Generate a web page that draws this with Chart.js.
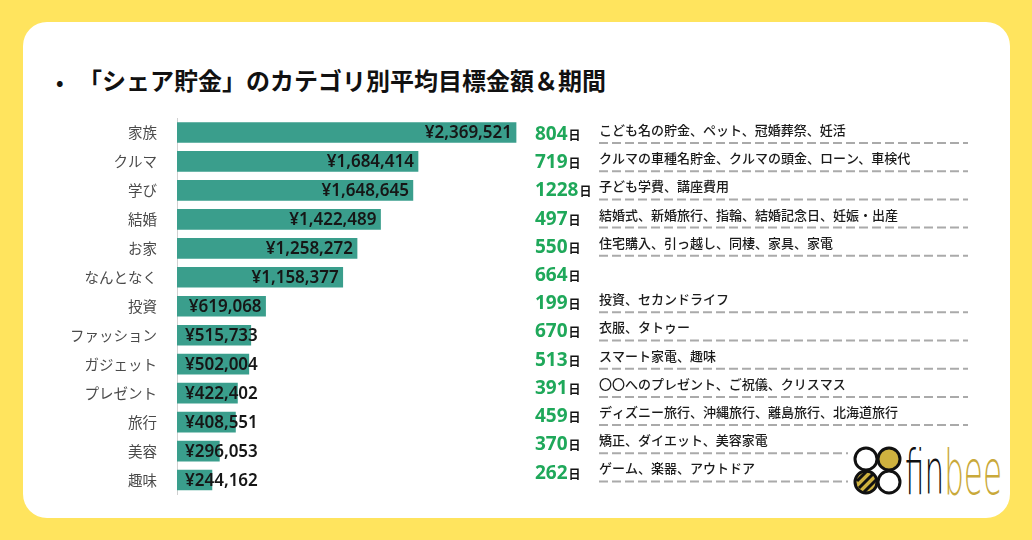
<!DOCTYPE html>
<html lang="ja">
<head>
<meta charset="utf-8">
<script src="https://cdn.jsdelivr.net/npm/chart.js@4.4.1/dist/chart.umd.min.js"></script>
<style>
  html, body { margin: 0; padding: 0; background: #ffe45e; }
  #wrap { position: relative; width: 1032px; height: 540px; overflow: hidden; background: #ffe45e; }
  #card { position: absolute; left: 23px; top: 22px; width: 987px; height: 496px; background: #fff; border-radius: 24px; }
  #title { position: absolute; left: 56px; top: 62px; line-height: 26px; font: bold 24px "Noto Sans CJK JP"; color: #111; white-space: nowrap; }
  #title .dot { display: inline-block; width: 22px; font-size: 20px; }
  canvas { position: absolute; left: 0; top: 0; }
  #logo { position: absolute; left: 848px; top: 438px; }
</style>
</head>
<body>
<div id="wrap">
  <div id="card"></div>
  <div id="title"><span class="dot">•</span>「シェア貯金」のカテゴリ別平均目標金額＆期間</div>
  <canvas id="shareChart" width="1032" height="540"></canvas>
  <svg id="logo" width="160" height="64" viewBox="0 0 160 64">
    <rect x="0" y="0" width="160" height="64" fill="#fff"/>
    <g stroke="#111" stroke-width="3">
      <circle cx="18" cy="21" r="11" fill="#fff"/>
      <circle cx="41" cy="21" r="11" fill="#cfb23f"/>
      <circle cx="41" cy="44" r="11" fill="#fff"/>
      <circle cx="18" cy="44" r="11" fill="#cfb23f"/>
    </g>
    <g stroke="#111" stroke-width="3">
      <line x1="9" y1="43" x2="19" y2="33"/>
      <line x1="11" y1="50" x2="25" y2="36"/>
      <line x1="16" y1="54" x2="28" y2="42"/>
    </g>
    <text transform="translate(57,56) scale(0.5,1)" font-family="DejaVu Sans" font-weight="200" font-size="62"><tspan fill="#111">fin</tspan><tspan fill="#c9a93a">bee</tspan></text>
  </svg>
</div>
<script>
const categories = ['家族', 'クルマ', '学び', '結婚', 'お家', 'なんとなく', '投資', 'ファッション', 'ガジェット', 'プレゼント', '旅行', '美容', '趣味'];
const amounts = [2369521, 1684414, 1648645, 1422489, 1258272, 1158377, 619068, 515733, 502004, 422402, 408551, 296053, 244162];
const days = [804, 719, 1228, 497, 550, 664, 199, 670, 513, 391, 459, 370, 262];
const examples = [
    'こども名の貯金、ペット、冠婚葬祭、妊活',
    'クルマの車種名貯金、クルマの頭金、ローン、車検代',
    '子ども学費、講座費用',
    '結婚式、新婚旅行、指輪、結婚記念日、妊娠・出産',
    '住宅購入、引っ越し、同棲、家具、家電',
    '',
    '投資、セカンドライフ',
    '衣服、タトゥー',
    'スマート家電、趣味',
    '〇〇へのプレゼント、ご祝儀、クリスマス',
    'ディズニー旅行、沖縄旅行、離島旅行、北海道旅行',
    '矯正、ダイエット、美容家電',
    'ゲーム、楽器、アウトドア'
];

const sideText = {
    id: 'sideText',
    afterDatasetsDraw(chart) {
        const ctx = chart.ctx;
        const xs = chart.scales.x;
        const ys = chart.scales.y;
        const base = xs.getPixelForValue(0);
        ctx.save();
        categories.forEach(function (c, i) {
            const yc = ys.getPixelForValue(i);
            const end = xs.getPixelForValue(amounts[i]);

            // amount label on the bar
            ctx.font = '600 17px "Noto Sans"';
            ctx.fillStyle = '#161616';
            ctx.textAlign = 'right';
            ctx.textBaseline = 'middle';
            const label = '¥' + amounts[i].toLocaleString('en-US');
            const w = ctx.measureText(label).width;
            ctx.fillText(label, Math.max(base + 8 + w, end - 4), yc + 1);

            // days column
            const dy = yc + 0.5 - 0.75 * i;
            ctx.textAlign = 'left';
            ctx.textBaseline = 'alphabetic';
            ctx.font = 'bold 19px "Noto Sans"';
            ctx.fillStyle = '#1fa85a';
            const d = String(days[i]);
            ctx.fillText(d, 535, dy + 7);
            const dw = ctx.measureText(d).width;
            ctx.font = 'bold 12px "Noto Sans CJK JP"';
            ctx.fillStyle = '#111';
            ctx.fillText('日', 535 + dw + 1, dy + 7);

            // examples + dashed rule
            if (examples[i]) {
                ctx.font = '500 13px "Noto Sans CJK JP"';
                ctx.fillStyle = '#1a1a1a';
                ctx.textBaseline = 'middle';
                ctx.fillText(examples[i], 599, dy - 3);
                ctx.beginPath();
                ctx.setLineDash([9, 4]);
                ctx.strokeStyle = '#aaaaaa';
                ctx.lineWidth = 2;
                ctx.moveTo(599, dy + 10);
                ctx.lineTo(968, dy + 10);
                ctx.stroke();
                ctx.setLineDash([]);
            }
        });
        ctx.restore();
    }
};

document.addEventListener('DOMContentLoaded', function () {
    const ctx = document.getElementById('shareChart');
    new Chart(ctx, {
        type: 'bar',
        data: {
            labels: categories,
            datasets: [{
                data: amounts,
                backgroundColor: '#3a9e8c',
                barThickness: 20
            }]
        },
        options: {
            indexAxis: 'y',
            responsive: false,
            animation: false,
            layout: {
                padding: { left: 0, right: 511.6, top: 118, bottom: 45.5 }
            },
            scales: {
                x: {
                    display: false,
                    min: 0,
                    max: 2400000
                },
                y: {
                    grid: { display: false, drawTicks: false },
                    border: { display: true, color: '#d0d0d0', width: 1 },
                    ticks: {
                        color: '#4a4a4a',
                        padding: 20,
                        font: { family: '"Noto Sans CJK JP"', size: 14.5 }
                    },
                    afterFit: function (scale) { scale.width = 177; }
                }
            },
            plugins: {
                legend: { display: false },
                tooltip: { enabled: false }
            }
        },
        plugins: [sideText]
    });
});
</script>
</body>
</html>
